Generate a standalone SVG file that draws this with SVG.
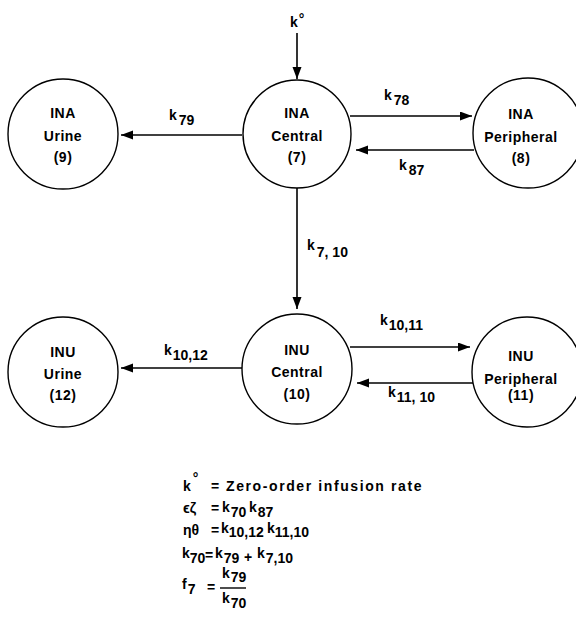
<svg xmlns="http://www.w3.org/2000/svg" width="576" height="644" viewBox="0 0 576 644">
  <style>
    text { font-family: "Liberation Sans", Arial, sans-serif; font-weight: bold; font-size: 14px; fill: #000; }
    .nt { text-anchor: middle; letter-spacing: 0.5px; }
    .node circle { fill: none; stroke: #000; stroke-width: 1.4; }
    .conn line { stroke: #000; stroke-width: 1.6; marker-end: url(#ah); }
    .lbl { font-size: 13px; }
    .eq { font-size: 13.5px; }
    .sp { letter-spacing: 1.6px; }
  </style>
  <defs>
    <marker id="ah" markerUnits="userSpaceOnUse" markerWidth="13" markerHeight="10" refX="12" refY="4.5" orient="auto">
      <path d="M0,0 L12,4.5 L0,9 Z" fill="#000"/>
    </marker>
  </defs>
  <rect width="576" height="644" fill="#fff"/>

  <!-- compartments: INA (top row) -->
  <g id="ina-urine" class="node">
    <circle cx="63" cy="134" r="55"/>
    <text class="nt" x="63" y="118">INA</text>
    <text class="nt" x="63" y="141">Urine</text>
    <text class="nt" x="63" y="162">(9)</text>
  </g>
  <g id="ina-central" class="node">
    <circle cx="297" cy="134" r="54"/>
    <text class="nt" x="297" y="118">INA</text>
    <text class="nt" x="297" y="141">Central</text>
    <text class="nt" x="297" y="162">(7)</text>
  </g>
  <g id="ina-peripheral" class="node">
    <circle cx="528" cy="133" r="55"/>
    <text class="nt" x="521" y="119">INA</text>
    <text class="nt" x="521" y="142">Peripheral</text>
    <text class="nt" x="521" y="163">(8)</text>
  </g>

  <!-- compartments: INU (bottom row) -->
  <g id="inu-urine" class="node">
    <circle cx="63" cy="372" r="55"/>
    <text class="nt" x="63" y="357">INU</text>
    <text class="nt" x="63" y="379">Urine</text>
    <text class="nt" x="63" y="400">(12)</text>
  </g>
  <g id="inu-central" class="node">
    <circle cx="297" cy="369" r="55"/>
    <text class="nt" x="297" y="355">INU</text>
    <text class="nt" x="297" y="377">Central</text>
    <text class="nt" x="297" y="399">(10)</text>
  </g>
  <g id="inu-peripheral" class="node">
    <circle cx="527" cy="372" r="55"/>
    <text class="nt" x="521" y="361">INU</text>
    <text class="nt" x="521" y="384">Peripheral</text>
    <text class="nt" x="521" y="400">(11)</text>
  </g>

  <!-- transfer arrows -->
  <g id="connectors" class="conn">
    <line x1="297" y1="33" x2="297" y2="79"/>
    <line x1="242" y1="135" x2="121" y2="135"/>
    <line x1="350" y1="116" x2="472" y2="116"/>
    <line x1="474" y1="150" x2="356" y2="150"/>
    <line x1="297" y1="188" x2="297" y2="309"/>
    <line x1="242" y1="368" x2="121" y2="368"/>
    <line x1="350" y1="347" x2="470" y2="347"/>
    <line x1="473" y1="383" x2="357" y2="383"/>
  </g>

  <!-- rate constant labels -->
  <g id="labels" class="lbl">
    <text x="290" y="27">k<tspan dx="1" dy="-3">°</tspan></text>
    <text x="169" y="120">k<tspan dx="2" dy="5">79</tspan></text>
    <text x="384" y="100">k<tspan dx="2" dy="5">78</tspan></text>
    <text x="399" y="170">k<tspan dx="2" dy="5">87</tspan></text>
    <text x="307" y="250">k<tspan dx="2" dy="7">7, 10</tspan></text>
    <text x="164" y="355">k<tspan dx="1" dy="5">10,12</tspan></text>
    <text x="380" y="325">k<tspan dx="1" dy="5">10,11</tspan></text>
    <text x="388" y="397">k<tspan dx="1" dy="5">11, 10</tspan></text>
  </g>

  <!-- definitions -->
  <g id="legend" class="eq">
    <text x="183" y="491">k<tspan dx="2" dy="-8">°</tspan></text>
    <text x="211" y="491">=</text>
    <text class="sp" x="226" y="491">Zero-order infusion rate</text>

    <text x="183" y="513">ϵζ</text>
    <text x="211" y="513">=</text>
    <text x="222" y="512">k<tspan dx="1" dy="5">70</tspan></text>
    <text x="249" y="512">k<tspan dx="1" dy="5">87</tspan></text>

    <text x="183" y="535">ηθ</text>
    <text x="211" y="535">=</text>
    <text x="221" y="533">k<tspan dx="0" dy="4">10,12</tspan></text>
    <text x="267" y="533">k<tspan dx="0" dy="4">11,10</tspan></text>

    <text x="182" y="558">k<tspan dx="0" dy="5">70</tspan></text>
    <text x="205" y="560">=</text>
    <text x="215" y="558">k<tspan dx="1" dy="5">79</tspan></text>
    <text x="244" y="562">+</text>
    <text x="257" y="558">k<tspan dx="1" dy="5">7,10</tspan></text>

    <text x="182" y="589">f<tspan dx="1" dy="5">7</tspan></text>
    <text x="207" y="592">=</text>
    <text x="222" y="578">k<tspan dx="1" dy="4">79</tspan></text>
    <line x1="220" y1="588" x2="246" y2="588" stroke="#000" stroke-width="1.4"/>
    <text x="222" y="603">k<tspan dx="1" dy="5">70</tspan></text>
  </g>
</svg>
